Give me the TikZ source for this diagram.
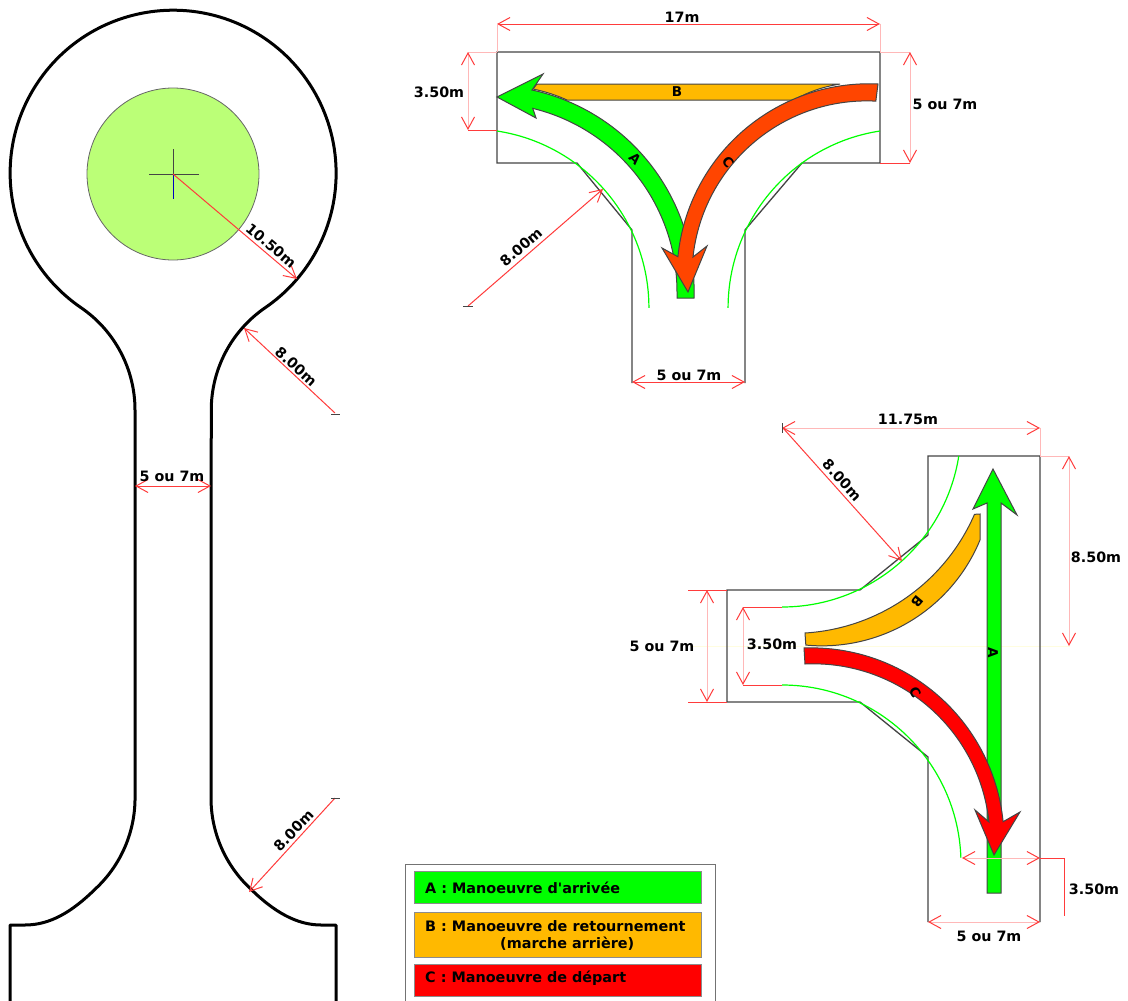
\documentclass[tikz,border=0pt]{standalone}
\usepackage{fontspec}
\setmainfont{DejaVu Sans}
\newfontfamily\legfont{DejaVu Sans}
\usetikzlibrary{arrows.meta}
\definecolor{dimred}{HTML}{FF3B3B}
\definecolor{palered}{HTML}{FFB8B8}
\definecolor{outl}{HTML}{444444}
\definecolor{grn}{HTML}{00FF00}
\definecolor{org}{HTML}{FFB900}
\definecolor{orr}{HTML}{FF4500}
\definecolor{lime}{HTML}{BBFF77}
\tikzset{
  x=1pt,y=-1pt,
  dimline/.style={draw=dimred,line width=1pt},
  dimarrow/.style={draw=dimred,line width=1pt,{Straight Barb[length=12pt,width=13pt,color=dimred]}-{Straight Barb[length=12pt,width=13pt,color=dimred]}},
  dimtip/.style={draw=dimred,line width=1pt,-{Straight Barb[length=12pt,width=13pt,color=dimred]}},
  paledim/.style={draw=palered,line width=1pt,{Straight Barb[length=12pt,width=13pt,color=dimred]}-{Straight Barb[length=12pt,width=13pt,color=dimred]}},
  paleline/.style={draw=palered,line width=1pt},
  wall/.style={draw=outl,line width=1.3pt,line join=miter},
  road/.style={draw=black,line width=3pt,line join=round},
  curb/.style={draw=grn,line width=1.2pt},
  band/.style={draw=outl,line width=1pt,line join=miter},
  lbl/.style={font=\fontsize{14.3}{16}\selectfont\bfseries,inner sep=0pt,text=black},
  letter/.style={font=\fontsize{13.5}{14}\selectfont\bfseries,inner sep=0pt,text=black},
  legtxt/.style={font=\legfont\fontsize{14.4}{16.5}\selectfont\bfseries,inner sep=0pt,text=black,anchor=west},
  legbox/.style={draw=black!45,line width=1pt},
  tick/.style={draw=outl,line width=1pt},
}
\begin{document}
\begin{tikzpicture}
\useasboundingbox (0,0) rectangle (1128,1001);
\fill[white] (0,0) rectangle (1128,1001);
% ---------- left: turning circle
\fill[lime,draw=black!60,line width=0.8pt] (173,174) circle[radius=86];
\draw[draw=outl,line width=1pt] (149,174) -- (199,174) (173,149) -- (173,174);
\draw[draw=blue!75!black,line width=1pt] (173,174) -- (173,199);
\draw[road] (10,1001) -- (10,925) -- (25,925) .. controls (50,925) and (72,912) .. (95.6,888.7)
  arc[start angle=47,end angle=0,radius=124] -- (135,410)
  arc[start angle=0,end angle=-55.6,radius=124]
  arc[start angle=124.4,end angle=415.6,radius=163]
  arc[start angle=235.6,end angle=180,radius=124]
  -- (211,798) arc[start angle=180,end angle=133,radius=124]
  .. controls (274,912) and (297,925) .. (321,925) -- (336,925) -- (336,1001);
\coordinate (cc) at (173,174); \coordinate (cr) at (297,279);
\draw[dimtip] (cc) -- (cr);
\coordinate (f1) at (335,413); \coordinate (f1t) at (244,328);
\draw[dimtip] (f1) -- (f1t);
\draw[tick] (331,414) -- (340,414);
\coordinate (f2) at (335,798); \coordinate (f2t) at (249,892);
\draw[dimtip] (f2) -- (f2t);
\draw[tick] (331,798) -- (340,798);
\coordinate (n1) at (135,486); \coordinate (n2) at (211,486);
\draw[dimarrow] (n1) -- (n2);
\node[lbl,rotate=-40] (t1050) at (271,245.5) {10.50m};
\node[lbl,rotate=-42] (t800a) at (296,366.5) {8.00m};
\node[lbl,rotate=46] (t800b) at (293.5,830.5) {8.00m};
\node[lbl] (t57a) at (172,476) {5 ou 7m};
% ---------- top: T
\draw[wall] (632,383) -- (632,230) -- (577,163) -- (497,163) -- (497,52) -- (880,52) -- (880,163) -- (802,163) -- (745,230) -- (745,383);
\draw[curb] (497,131) arc[start angle=278.7,end angle=360,radius=179];
\draw[curb] (880,131) arc[start angle=261.3,end angle=180,radius=179];
\fill[org,draw=outl,line width=1pt] (537,84) -- (840,84) .. controls (822,87) and (808,92) .. (794,100) -- (567,100) .. controls (556,95) and (545,91.5) .. (533,89) -- cycle;
\draw[band,fill=grn] (532,90) arc[start angle=282.3,end angle=360,radius=206] -- (694,298) -- (677,298) -- (677,292)
  arc[start angle=0,end angle=-76.3,radius=189] -- (536,118) -- (497,97) -- (543,74) -- cycle;
\draw[band,fill=orr] (878,84) arc[start angle=272.7,end angle=185.7,radius=192] -- (662,248) -- (688,292) -- (707,246) -- (693,257)
  arc[start angle=186.2,end angle=272.9,radius=175] -- cycle;
\node[letter,rotate=-45] (lA1) at (635,159) {A};
\node[letter] (lB1) at (677,92) {B};
\node[letter,rotate=-50] (lC1) at (728,162) {C};
\coordinate (t17a) at (497,24); \coordinate (t17b) at (880,24);
\draw[dimarrow] (t17a) -- (t17b);
\draw[paleline] (497,24) -- (497,52) (880,24) -- (880,52) (468,52) -- (497,52) (880,52) -- (910,52);
\draw[dimline] (468,130) -- (497,130) (880,163) -- (910,163);
\coordinate (t35a) at (468,52); \coordinate (t35b) at (468,130);
\draw[paledim] (t35a) -- (t35b);
\coordinate (t57c) at (910,52); \coordinate (t57d) at (910,163);
\draw[paledim] (t57c) -- (t57d);
\coordinate (t57e) at (632,382); \coordinate (t57f) at (745,382);
\draw[dimarrow] (t57e) -- (t57f);
\coordinate (t8a) at (468,306); \coordinate (t8b) at (603,189);
\draw[dimtip] (t8a) -- (t8b);
\draw[tick] (463,306) -- (473,306);
\node[lbl] (t17) at (682,17) {17m};
\node[lbl] (t350a) at (439,92) {3.50m};
\node[lbl] (t57b) at (945,104) {5 ou 7m};
\node[lbl] (t57g) at (689,375) {5 ou 7m};
\node[lbl,rotate=41] (t800c) at (521,247) {8.00m};
% ---------- right: side branch
\draw[draw=yellow!12,line width=0.8pt] (690,646) -- (1070,646);
\draw[wall] (928,535) -- (928,456) -- (1040,456) -- (1040,922) (928,922) -- (928,757) -- (860,702) -- (727,702) -- (727,590) -- (860,590) -- (928,535);
\draw[curb] (782,607) arc[start angle=90,end angle=9,radius=179];
\draw[curb] (782,685) arc[start angle=270,end angle=358,radius=179];
\draw[band,fill=grn] (987,893) -- (987,503) -- (973,509) -- (993,469) -- (1017,515) -- (1001,503) -- (1001,893) -- cycle;
\draw[band,fill=org] (805,633) arc[start angle=86.5,end angle=23.5,radius=198] -- (980,514) -- (980,540) arc[start angle=22.4,end angle=95.4,radius=171] -- cycle;
\draw[band,fill=red] (804,648) arc[start angle=267.9,end angle=354.3,radius=193] -- (1020,812) -- (994,855) -- (975,810) -- (989,822)
  arc[start angle=353.9,end angle=267.4,radius=177] -- cycle;
\node[letter,rotate=-90] (lA2) at (993,653) {A};
\node[letter,rotate=-130] (lB2) at (917,602) {B};
\node[letter,rotate=-60] (lC2) at (915,692) {C};
\draw[dimline] (688,590) -- (727,590) (688,702) -- (727,702) (743,607) -- (782,607) (743,685) -- (782,685) (1040,858) -- (1064,858) -- (1064,916);
\coordinate (r57a) at (707,590); \coordinate (r57b) at (707,702);
\draw[paledim] (r57a) -- (r57b);
\coordinate (r35a) at (743,607); \coordinate (r35b) at (743,685);
\draw[paledim] (r35a) -- (r35b);
\coordinate (r117a) at (782,428); \coordinate (r117b) at (1040,428);
\draw[paledim] (r117a) -- (r117b);
\draw[paleline] (1040,428) -- (1040,456) (1040,456) -- (1069,456);
\coordinate (r85a) at (1069,456); \coordinate (r85b) at (1069,646);
\draw[paledim] (r85a) -- (r85b);
\coordinate (r8a) at (783,428); \coordinate (r8b) at (902,561);
\draw[dimtip] (r8a) -- (r8b);
\draw[tick] (782,423) -- (782,433);
\coordinate (r35c) at (962,858); \coordinate (r35d) at (1040,858);
\draw[paledim] (r35c) -- (r35d);
\coordinate (r57c) at (928,922); \coordinate (r57d) at (1040,922);
\draw[paledim] (r57c) -- (r57d);
\node[lbl] (r1175) at (908,419) {11.75m};
\node[lbl,rotate=-48] (r800) at (842,480) {8.00m};
\node[lbl] (r85) at (1096,557) {8.50m};
\node[lbl] (r57t) at (662,646) {5 ou 7m};
\node[lbl] (r35t) at (772,644) {3.50m};
\node[lbl] (r35u) at (1094,889) {3.50m};
\node[lbl] (r57u) at (989,936) {5 ou 7m};
% ---------- legend
\draw[draw=black!55,line width=1pt] (405,1001) -- (405,864) -- (715,864) -- (715,1001);
\fill[grn,legbox] (414,871) rectangle (701,903);
\fill[org,legbox] (414,912) rectangle (701,957);
\fill[red,legbox] (414,964) rectangle (701,996);
\node[legtxt] (la) at (425,888) {A : Manoeuvre d'arrivée};
\node[legtxt] (lb) at (425,926.5) {B : Manoeuvre de retournement};
\node[legtxt] (lb2) at (500,943.5) {(marche arrière)};
\node[legtxt] (lc) at (425,978) {C : Manoeuvre de départ};
\end{tikzpicture}
\end{document}
